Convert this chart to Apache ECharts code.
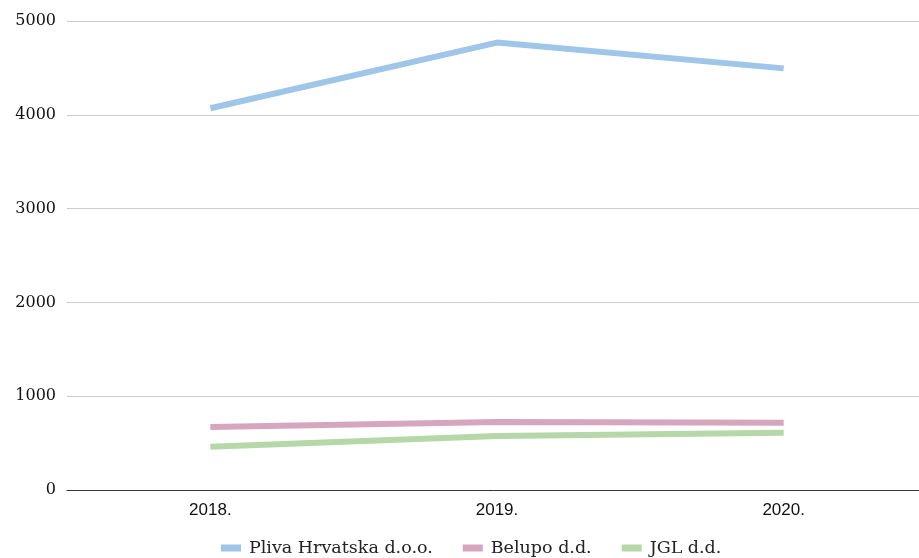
<!DOCTYPE html>
<html>
<head>
<meta charset="utf-8">
<script src="https://cdn.jsdelivr.net/npm/echarts@6/dist/echarts.min.js"></script>
<style>
  html, body { margin: 0; padding: 0; background: #fff; }
  #chart { width: 919px; height: 558px; }
</style>
</head>
<body>
<div id="chart"></div>
<script>
const years = ['2018.', '2019.', '2020.']
const pliva = [4070, 4770, 4495]
const belupo = [672, 725, 718]
const jgl = [462, 576, 611]

const serif = "Georgia, 'DejaVu Serif', 'Liberation Serif', serif"

const chart = echarts.init(document.getElementById('chart'))

const line = (name, data, color) => ({
  name,
  type: 'line',
  data,
  symbol: 'none',
  lineStyle: { color, width: 6 },
  itemStyle: { color },
})

chart.setOption({
  animation: false,
  grid: { left: 67, width: 860, top: 21, bottom: 68, outerBoundsMode: 'none', containLabel: false },
  legend: {
    bottom: -4,
    left: 216,
    itemWidth: 20,
    itemHeight: 7,
    itemGap: 30,
    icon: 'rect',
    textStyle: { fontFamily: serif, fontSize: 17.5, color: '#222', padding: [0, 0, 0, 3] },
  },
  xAxis: {
    type: 'category',
    data: years,
    axisTick: { show: false },
    axisLine: { lineStyle: { color: '#333', width: 1 } },
    axisLabel: { fontFamily: "Arial, 'Liberation Sans', sans-serif", fontSize: 17, color: '#111', margin: 12 },
  },
  yAxis: {
    type: 'value',
    min: 0,
    max: 5000,
    interval: 1000,
    axisLabel: { fontFamily: serif, fontSize: 16, color: '#111', margin: 11, formatter: v => String(v) },
    splitLine: { lineStyle: { color: '#ccc' } },
  },
  series: [
    line('Pliva Hrvatska d.o.o.', pliva, '#9fc5e8'),
    line('Belupo d.d.', belupo, '#d5a6bd'),
    line('JGL d.d.', jgl, '#b6d7a8'),
  ],
})
</script>
</body>
</html>
